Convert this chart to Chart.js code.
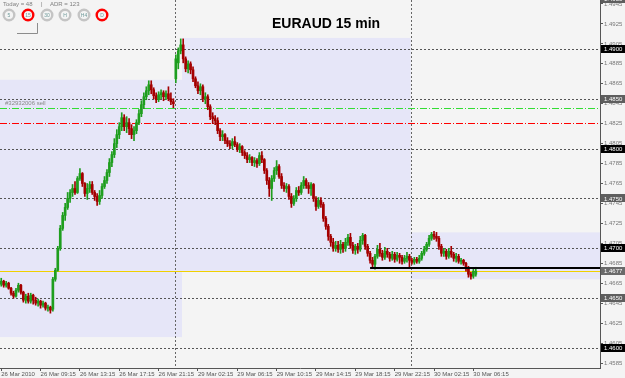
<!DOCTYPE html>
<html>
<head>
<meta charset="utf-8">
<script src="https://cdn.jsdelivr.net/npm/chart.js@4.4.0/dist/chart.umd.min.js"></script>
<style>
  html, body { margin: 0; padding: 0; background: #f4f4f4; }
  canvas { display: block; }
</style>
</head>
<body>
<canvas id="myChart" width="625" height="378"></canvas>
<script>
// EURAUD 15 min candles, 26 Mar 2010 05:15 -> 30 Mar 2010 07:30
const opens = [
  1.4664,1.4667,1.4663,1.4665,1.4660,1.4655,1.4652,1.4658,1.4663,1.4656,
  1.4648,1.4652,1.4647,1.4653,1.4648,1.4645,1.4647,1.4643,1.4645,1.4640,
  1.4641,1.4639,1.4669,1.4678,1.4700,1.4720,1.4733,1.4741,1.4750,1.4756,
  1.4760,1.4756,1.4770,1.4775,1.4765,1.4755,1.4760,1.4764,1.4756,1.4752,
  1.4747,1.4753,1.4762,1.4768,1.4776,1.4786,1.4794,1.4805,1.4814,1.4822,
  1.4831,1.4822,1.4826,1.4820,1.4814,1.4818,1.4826,1.4835,1.4844,1.4852,
  1.4858,1.4864,1.4859,1.4853,1.4849,1.4854,1.4856,1.4852,1.4855,1.4850,
  1.4847,1.4870,1.4886,1.4898,1.4904,1.4890,1.4880,1.4885,1.4879,1.4870,
  1.4863,1.4858,1.4862,1.4850,1.4852,1.4842,1.4832,1.4830,1.4828,1.4818,
  1.4812,1.4814,1.4808,1.4805,1.4803,1.4807,1.4804,1.4799,1.4802,1.4796,
  1.4793,1.4789,1.4791,1.4786,1.4788,1.4785,1.4793,1.4789,1.4778,1.4768,
  1.4760,1.4770,1.4778,1.4782,1.4772,1.4763,1.4760,1.4762,1.4752,1.4745,
  1.4750,1.4758,1.4756,1.4763,1.4768,1.4763,1.4760,1.4764,1.4750,1.4742,
  1.4748,1.4744,1.4730,1.4722,1.4712,1.4706,1.4700,1.4703,1.4699,1.4704,
  1.4700,1.4706,1.4711,1.4703,1.4698,1.4702,1.4699,1.4708,1.4713,1.4702,
  1.4695,1.4688,1.4684,1.4692,1.4699,1.4695,1.4691,1.4697,1.4694,1.4690,
  1.4694,1.4689,1.4693,1.4691,1.4687,1.4690,1.4692,1.4688,1.4686,1.4689,
  1.4687,1.4690,1.4695,1.4699,1.4704,1.4710,1.4714,1.4712,1.4710,1.4702,
  1.4695,1.4697,1.4692,1.4697,1.4694,1.4690,1.4692,1.4687,1.4688,1.4685,
  1.4680,1.4674,1.4672,1.4674
];
const highs = [
  1.4670,1.4668,1.4667,1.4666,1.4661,1.4657,1.4660,1.4665,1.4664,1.4657,
  1.4654,1.4655,1.4655,1.4654,1.4651,1.4649,1.4648,1.4647,1.4646,1.4643,
  1.4642,1.4671,1.4680,1.4702,1.4723,1.4736,1.4745,1.4756,1.4759,1.4764,
  1.4767,1.4772,1.4780,1.4776,1.4766,1.4765,1.4767,1.4767,1.4758,1.4755,
  1.4758,1.4765,1.4772,1.4779,1.4790,1.4797,1.4810,1.4819,1.4826,1.4836,
  1.4834,1.4832,1.4830,1.4824,1.4822,1.4829,1.4839,1.4848,1.4856,1.4862,
  1.4868,1.4868,1.4861,1.4856,1.4857,1.4859,1.4858,1.4858,1.4862,1.4856,
  1.4850,1.4894,1.4901,1.4910,1.4910,1.4892,1.4888,1.4887,1.4882,1.4872,
  1.4867,1.4865,1.4864,1.4856,1.4854,1.4844,1.4836,1.4833,1.4831,1.4820,
  1.4818,1.4815,1.4811,1.4808,1.4810,1.4812,1.4806,1.4805,1.4803,1.4798,
  1.4796,1.4794,1.4792,1.4791,1.4790,1.4796,1.4797,1.4790,1.4780,1.4771,
  1.4773,1.4781,1.4788,1.4784,1.4775,1.4766,1.4765,1.4764,1.4755,1.4753,
  1.4761,1.4762,1.4766,1.4772,1.4770,1.4766,1.4766,1.4765,1.4752,1.4751,
  1.4751,1.4746,1.4732,1.4724,1.4714,1.4710,1.4707,1.4707,1.4708,1.4706,
  1.4710,1.4714,1.4715,1.4706,1.4704,1.4705,1.4712,1.4715,1.4714,1.4704,
  1.4697,1.4691,1.4694,1.4703,1.4705,1.4698,1.4701,1.4700,1.4696,1.4697,
  1.4696,1.4696,1.4695,1.4693,1.4693,1.4696,1.4694,1.4690,1.4691,1.4691,
  1.4693,1.4697,1.4702,1.4706,1.4713,1.4716,1.4717,1.4716,1.4712,1.4704,
  1.4700,1.4699,1.4700,1.4702,1.4696,1.4695,1.4694,1.4690,1.4689,1.4686,
  1.4682,1.4676,1.4679,1.4681
];
const lows = [
  1.4662,1.4661,1.4661,1.4659,1.4653,1.4650,1.4651,1.4656,1.4654,1.4646,
  1.4645,1.4645,1.4645,1.4644,1.4643,1.4642,1.4640,1.4641,1.4638,1.4637,
  1.4635,1.4637,1.4667,1.4677,1.4698,1.4718,1.4728,1.4739,1.4746,1.4752,
  1.4754,1.4755,1.4768,1.4762,1.4752,1.4749,1.4756,1.4754,1.4748,1.4743,
  1.4744,1.4750,1.4760,1.4765,1.4772,1.4782,1.4791,1.4801,1.4810,1.4818,
  1.4818,1.4816,1.4814,1.4810,1.4808,1.4815,1.4824,1.4832,1.4840,1.4849,
  1.4854,1.4855,1.4850,1.4846,1.4847,1.4850,1.4848,1.4849,1.4848,1.4844,
  1.4841,1.4866,1.4880,1.4895,1.4886,1.4877,1.4876,1.4875,1.4867,1.4861,
  1.4855,1.4854,1.4847,1.4845,1.4839,1.4829,1.4825,1.4824,1.4815,1.4808,
  1.4808,1.4805,1.4802,1.4800,1.4800,1.4802,1.4797,1.4796,1.4793,1.4790,
  1.4786,1.4786,1.4783,1.4782,1.4781,1.4783,1.4786,1.4775,1.4764,1.4752,
  1.4748,1.4767,1.4774,1.4770,1.4760,1.4757,1.4756,1.4749,1.4741,1.4743,
  1.4747,1.4753,1.4754,1.4760,1.4760,1.4755,1.4753,1.4747,1.4738,1.4740,
  1.4741,1.4727,1.4719,1.4708,1.4702,1.4697,1.4697,1.4696,1.4695,1.4696,
  1.4697,1.4703,1.4700,1.4695,1.4694,1.4695,1.4697,1.4704,1.4699,1.4692,
  1.4685,1.4680,1.4679,1.4690,1.4692,1.4688,1.4689,1.4691,1.4687,1.4688,
  1.4686,1.4687,1.4685,1.4684,1.4685,1.4686,1.4680,1.4684,1.4684,1.4685,
  1.4685,1.4688,1.4693,1.4697,1.4702,1.4708,1.4709,1.4707,1.4699,1.4692,
  1.4692,1.4689,1.4690,1.4691,1.4687,1.4686,1.4685,1.4684,1.4683,1.4677,
  1.4671,1.4669,1.4670,1.4672
];
const closes = [
  1.4667,1.4663,1.4665,1.4660,1.4655,1.4652,1.4658,1.4663,1.4656,1.4648,
  1.4652,1.4647,1.4653,1.4648,1.4645,1.4647,1.4643,1.4645,1.4640,1.4641,
  1.4638,1.4669,1.4678,1.4700,1.4720,1.4733,1.4741,1.4750,1.4756,1.4760,
  1.4756,1.4770,1.4775,1.4765,1.4755,1.4760,1.4764,1.4756,1.4752,1.4747,
  1.4753,1.4762,1.4768,1.4776,1.4786,1.4794,1.4805,1.4814,1.4822,1.4831,
  1.4822,1.4826,1.4820,1.4814,1.4818,1.4826,1.4835,1.4844,1.4852,1.4858,
  1.4864,1.4859,1.4853,1.4849,1.4854,1.4856,1.4852,1.4855,1.4850,1.4847,
  1.4845,1.4890,1.4898,1.4904,1.4890,1.4880,1.4885,1.4879,1.4870,1.4863,
  1.4858,1.4862,1.4850,1.4852,1.4842,1.4832,1.4830,1.4828,1.4818,1.4812,
  1.4814,1.4808,1.4805,1.4803,1.4807,1.4804,1.4799,1.4802,1.4796,1.4793,
  1.4789,1.4791,1.4786,1.4788,1.4785,1.4793,1.4789,1.4778,1.4768,1.4760,
  1.4770,1.4778,1.4782,1.4772,1.4763,1.4760,1.4762,1.4752,1.4745,1.4750,
  1.4758,1.4756,1.4763,1.4768,1.4763,1.4760,1.4764,1.4750,1.4742,1.4748,
  1.4744,1.4730,1.4722,1.4712,1.4706,1.4700,1.4703,1.4699,1.4704,1.4700,
  1.4706,1.4711,1.4703,1.4698,1.4702,1.4699,1.4708,1.4713,1.4702,1.4695,
  1.4688,1.4684,1.4692,1.4699,1.4695,1.4691,1.4697,1.4694,1.4690,1.4694,
  1.4689,1.4693,1.4691,1.4687,1.4690,1.4692,1.4688,1.4686,1.4689,1.4687,
  1.4690,1.4695,1.4699,1.4704,1.4710,1.4714,1.4712,1.4710,1.4702,1.4695,
  1.4697,1.4692,1.4697,1.4694,1.4690,1.4692,1.4687,1.4688,1.4685,1.4680,
  1.4674,1.4672,1.4677,1.4677
];

// time labels, one every 16 bars (4 hours)
const timeLabels = ['26 Mar 2010','26 Mar 09:15','26 Mar 13:15','26 Mar 17:15','26 Mar 21:15',
  '29 Mar 02:15','29 Mar 06:15','29 Mar 10:15','29 Mar 14:15','29 Mar 18:15','29 Mar 22:15',
  '30 Mar 02:15','30 Mar 06:15'];
const barsPerLabel = 16;
const totalSlots = 244; // bars + empty right margin

const priceTicks = [1.4945,1.4925,1.4905,1.4885,1.4865,1.4845,1.4825,1.4805,1.4785,1.4765,
  1.4745,1.4725,1.4705,1.4685,1.4665,1.4645,1.4625,1.4605,1.4585];
const roundLevels = [1.4950,1.4900,1.4850,1.4800,1.4750,1.4700,1.4650,1.4600];

// daily high/low boxes: [from bar, to bar, low, high]
const dayBoxes = [
  [-0.5, 73.5, 1.4611, 1.4869],
  [73.5, 166.5, 1.4677, 1.4911],
  [166.5, 243.5, 1.4669, 1.4716]
];
const daySeparators = [70.5, 166.5];
const orderLevel = 1.4841;
const stopLevel = 1.4826;
const bidPrice = 1.4677;
const supportLevel = 1.4680;
const supportStart = 150;

const xLabels = [];
for (let i = 0; i < totalSlots; i++) {
  xLabels.push(i % barsPerLabel === 0 && timeLabels[i / barsPerLabel] ? timeLabels[i / barsPerLabel] : '');
}

const candleColors = closes.map((c, i) => c >= opens[i] ? '#1e9e1e' : '#a40000');

const overlay = {
  id: 'overlay',
  beforeDraw(chart) {
    const ctx = chart.ctx;
    ctx.save();
    ctx.fillStyle = '#f4f4f4';
    ctx.fillRect(0, 0, chart.width, chart.height);
    ctx.restore();
  },
  beforeDatasetsDraw(chart) {
    const ctx = chart.ctx, a = chart.chartArea;
    const x = chart.scales.x, y = chart.scales.y;
    ctx.save();
    ctx.beginPath();
    ctx.rect(a.left, a.top, a.right - a.left, a.bottom - a.top);
    ctx.clip();

    ctx.fillStyle = '#e6e6f8';
    dayBoxes.forEach(b => {
      const x0 = x.getPixelForValue(b[0]), x1 = x.getPixelForValue(b[1]);
      const y0 = y.getPixelForValue(b[3]), y1 = y.getPixelForValue(b[2]);
      ctx.fillRect(x0, y0, x1 - x0, y1 - y0);
    });

    // round number levels
    ctx.strokeStyle = '#555';
    ctx.lineWidth = 1;
    ctx.setLineDash([2, 2]);
    roundLevels.forEach(v => {
      const py = Math.round(y.getPixelForValue(v)) + 0.5;
      ctx.beginPath(); ctx.moveTo(a.left, py); ctx.lineTo(a.right, py); ctx.stroke();
    });
    // day separators
    ctx.strokeStyle = '#666';
    daySeparators.forEach(v => {
      const px = Math.round(x.getPixelForValue(v)) + 0.5;
      ctx.beginPath(); ctx.moveTo(px, a.top); ctx.lineTo(px, a.bottom); ctx.stroke();
    });

    // order lines
    ctx.setLineDash([7, 2, 1, 2]);
    ctx.strokeStyle = '#33dd33';
    let py = Math.round(y.getPixelForValue(orderLevel)) + 0.5;
    ctx.beginPath(); ctx.moveTo(a.left, py); ctx.lineTo(a.right, py); ctx.stroke();
    ctx.strokeStyle = '#ff0000';
    py = Math.round(y.getPixelForValue(stopLevel)) + 0.5;
    ctx.beginPath(); ctx.moveTo(a.left, py); ctx.lineTo(a.right, py); ctx.stroke();
    ctx.setLineDash([]);
    ctx.fillStyle = '#8a8a8a';
    ctx.font = '6px "Liberation Sans", Arial, sans-serif';
    ctx.textBaseline = 'bottom';
    ctx.fillText('#32932006 sell', a.left + 5, y.getPixelForValue(orderLevel) - 1);

    // bid line
    ctx.strokeStyle = '#f0d000';
    py = Math.round(y.getPixelForValue(bidPrice)) + 0.5;
    ctx.beginPath(); ctx.moveTo(a.left, py); ctx.lineTo(a.right, py); ctx.stroke();
    ctx.restore();
  },
  afterDatasetsDraw(chart) {
    const ctx = chart.ctx, a = chart.chartArea;
    const x = chart.scales.x, y = chart.scales.y;
    ctx.save();
    // support line
    ctx.strokeStyle = '#000';
    ctx.lineWidth = 2;
    const sy = Math.round(y.getPixelForValue(supportLevel));
    ctx.beginPath(); ctx.moveTo(x.getPixelForValue(supportStart), sy); ctx.lineTo(a.right, sy); ctx.stroke();

    // title
    ctx.fillStyle = '#000';
    ctx.font = 'bold 14px "Liberation Sans", Arial, sans-serif';
    ctx.textBaseline = 'middle';
    ctx.textAlign = 'left';
    ctx.fillText('EURAUD 15 min', 272, 24);

    // info line
    ctx.fillStyle = '#808080';
    ctx.font = '6px "Liberation Sans", Arial, sans-serif';
    ctx.fillText('Today = 48', 3, 4);
    ctx.fillText('|', 41, 4);
    ctx.fillText('ADR = 123', 50, 4);

    // timeframe buttons
    const buttons = [['5', 9, false], ['15', 28, true], ['30', 47, false], ['H', 65, false], ['H4', 84, false], ['D', 102, true]];
    buttons.forEach(b => {
      ctx.beginPath();
      ctx.arc(b[1], 15, 5.3, 0, Math.PI * 2);
      ctx.lineWidth = 2.4;
      ctx.strokeStyle = b[2] ? '#ff0000' : '#c4c4c4';
      ctx.stroke();
      ctx.fillStyle = '#6f9a9a';
      ctx.font = '5px "Liberation Sans", Arial, sans-serif';
      ctx.textAlign = 'center';
      ctx.fillText(b[0], b[1], 15.5);
    });
    ctx.strokeStyle = '#8c8c8c';
    ctx.lineWidth = 1;
    ctx.beginPath(); ctx.moveTo(17, 33.5); ctx.lineTo(37.5, 33.5); ctx.lineTo(37.5, 23); ctx.stroke();

    // price boxes on the axis
    ctx.font = '6px "Liberation Sans", Arial, sans-serif';
    ctx.textAlign = 'left';
    const boxes = roundLevels.map(v => [v, Math.round(v * 10000) % 100 === 0 ? '#000' : '#5e5e5e']);
    boxes.push([bidPrice, '#6a6a6a']);
    boxes.forEach(b => {
      const by = y.getPixelForValue(b[0]);
      ctx.fillStyle = b[1];
      ctx.fillRect(a.right + 1, Math.round(by) - 4, 24, 8);
      ctx.fillStyle = '#fff';
      ctx.fillText(b[0].toFixed(4), a.right + 4, by + 0.5);
    });
    ctx.restore();
  }
};

new Chart(document.getElementById('myChart'), {
  type: 'bar',
  data: {
    labels: xLabels,
    datasets: [
      {
        label: 'body',
        data: opens.map((o, i) => [o, closes[i]]),
        backgroundColor: candleColors,
        barThickness: 2,
        minBarLength: 1,
        grouped: false
      },
      {
        label: 'wick',
        data: lows.map((l, i) => [l, highs[i]]),
        backgroundColor: candleColors,
        barThickness: 1,
        grouped: false
      }
    ]
  },
  options: {
    responsive: false,
    animation: false,
    devicePixelRatio: 1,
    layout: { padding: 0 },
    plugins: { legend: { display: false }, tooltip: { enabled: false } },
    scales: {
      x: {
        position: 'bottom',
        afterBuildTicks: s => { s.ticks = s.ticks.filter(t => xLabels[t.value] !== ''); },
        afterFit: s => { s.height = 10; s.paddingLeft = 0; s.paddingRight = 0; },
        grid: { display: true, drawOnChartArea: false, offset: false, tickLength: 3, color: '#555' },
        border: { display: true, color: '#555' },
        ticks: {
          autoSkip: false, maxRotation: 0, minRotation: 0, align: 'start', padding: 0,
          color: '#555', font: { size: 6, family: '"Liberation Sans", Arial, sans-serif' },
          callback: v => xLabels[v]
        }
      },
      y: {
        position: 'right',
        min: 1.4580,
        max: 1.4949,
        afterBuildTicks: s => { s.ticks = priceTicks.map(v => ({ value: v })); },
        afterFit: s => { s.width = 25; s.paddingTop = 0; s.paddingBottom = 0; },
        grid: { display: true, drawOnChartArea: false, tickLength: 3, color: '#555' },
        border: { display: true, color: '#555' },
        ticks: {
          padding: 1, color: '#777',
          font: { size: 6, family: '"Liberation Sans", Arial, sans-serif' },
          callback: v => v.toFixed(4)
        }
      }
    }
  },
  plugins: [overlay]
});
</script>
</body>
</html>
